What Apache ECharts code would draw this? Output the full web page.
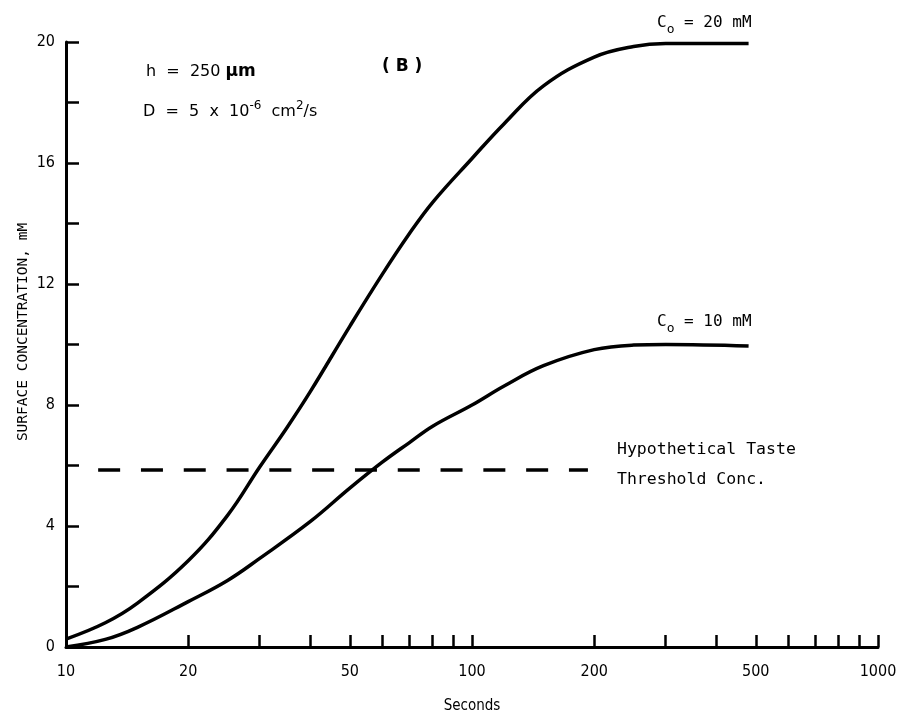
<!DOCTYPE html>
<html>
    <head>
        <meta charset="utf-8">
        <script src="https://cdn.jsdelivr.net/npm/echarts@6/dist/echarts.min.js"></script>
        <style>
            html, body { margin: 0; padding: 0; background: #fff; }
            #main { width: 905px; height: 721px; }
        </style>
    </head>
    <body>
        <div id="main"></div>
        <script>
            // time in seconds (log axis)
            var timeHigh = [10, 12.5, 15, 20, 25, 30, 35, 40, 50, 60, 70, 80, 100, 120, 150, 200, 250, 300, 480];
            // surface concentration for Co = 20 mM
            var concHigh = [0.26, 0.8, 1.45, 2.85, 4.35, 5.95, 7.25, 8.45, 10.6, 12.3, 13.65, 14.7, 16.15, 17.3, 18.55, 19.5, 19.85, 19.95, 19.95];

            var timeLow = [10, 12.5, 15, 20, 25, 30, 40, 50, 60, 70, 80, 100, 120, 150, 200, 250, 300, 480];
            // surface concentration for Co = 10 mM
            var concLow = [0.0, 0.25, 0.65, 1.5, 2.2, 2.93, 4.15, 5.25, 6.1, 6.75, 7.3, 8.0, 8.63, 9.3, 9.83, 9.98, 10.0, 9.95];

            var thresholdTime = [12, 193];
            var thresholdConc = [5.85, 5.85];

            var xTicks = [20, 30, 40, 50, 60, 70, 80, 90, 100, 200, 300, 400, 500, 600, 700, 800, 900, 1000];
            var xLabels = [10, 20, 50, 100, 200, 500, 1000];
            var yTicks = [0, 2, 4, 6, 8, 10, 12, 14, 16, 18, 20];
            var yLabels = [0, 4, 8, 12, 16, 20];

            var NARROW = "'DejaVu Sans Condensed', 'Liberation Sans Narrow', sans-serif";
            var SANS = "'DejaVu Sans', sans-serif";
            var MONO = "'DejaVu Sans Mono', 'Liberation Mono', monospace";

            function pairs(xs, ys) {
                var out = [];
                for (var i = 0; i < xs.length; i++) {
                    out.push([xs[i], ys[i]]);
                }
                return out;
            }

            var chart = echarts.init(document.getElementById('main'), null, {renderer: 'canvas'});

            var curveStyle = {color: '#000', width: 3.5};

            chart.setOption({
                animation: false,
                grid: {left: 66, right: 27, top: 42, bottom: 74},
                xAxis: {
                    type: 'log',
                    logBase: 10,
                    min: 10,
                    max: 1000,
                    name: 'Seconds',
                    nameLocation: 'middle',
                    nameGap: 52,
                    nameTextStyle: {color: '#000', fontSize: 15, fontFamily: NARROW},
                    axisLine: {lineStyle: {color: '#000', width: 3}},
                    axisTick: {
                        inside: true,
                        length: 12,
                        lineStyle: {color: '#000', width: 2.5},
                        customValues: xTicks
                    },
                    axisLabel: {
                        color: '#000',
                        fontSize: 16,
                        fontFamily: NARROW,
                        margin: 17,
                        customValues: xLabels,
                        formatter: function (v) { return String(v); }
                    },
                    splitLine: {show: false},
                    minorTick: {show: false}
                },
                yAxis: {
                    type: 'value',
                    min: 0,
                    max: 20,
                    interval: 2,
                    axisLine: {show: true, lineStyle: {color: '#000', width: 3}},
                    axisTick: {
                        show: true,
                        inside: true,
                        length: 13,
                        lineStyle: {color: '#000', width: 2.5},
                        customValues: yTicks
                    },
                    axisLabel: {
                        color: '#000',
                        fontSize: 16,
                        fontFamily: NARROW,
                        margin: 11,
                        customValues: yLabels
                    },
                    splitLine: {show: false}
                },
                graphic: [
                    {
                        type: 'text', x: 23, y: 332, rotation: Math.PI / 2,
                        style: {
                            text: 'SURFACE CONCENTRATION, mM',
                            font: '14.5px ' + MONO,
                            fill: '#000', align: 'center', verticalAlign: 'middle'
                        }
                    },
                    {
                        type: 'text', x: 146, y: 72,
                        style: {
                            text: 'h  =  250 {b|\u03bcm}',
                            font: '16px ' + SANS,
                            fill: '#000', verticalAlign: 'middle',
                            rich: {b: {fontSize: 17, fontWeight: 'bold', fontFamily: SANS}}
                        }
                    },
                    {
                        type: 'text', x: 143, y: 112,
                        style: {
                            text: 'D  =  5  x  10{sup|-6}  cm{sup|2}/s',
                            font: '16px ' + SANS,
                            fill: '#000', verticalAlign: 'middle',
                            rich: {sup: {fontSize: 12, fontFamily: SANS, padding: [0, 0, 13, 0]}}
                        }
                    },
                    {
                        type: 'text', x: 382, y: 67,
                        style: {
                            text: '( B )',
                            font: 'bold 17px ' + SANS,
                            fill: '#000', verticalAlign: 'middle'
                        }
                    },
                    {
                        type: 'text', x: 657, y: 23,
                        style: {
                            text: 'C{sub|o} = 20 mM',
                            font: '16px ' + MONO,
                            fill: '#000', verticalAlign: 'middle',
                            rich: {sub: {fontSize: 13, fontFamily: MONO, padding: [13, 0, 0, 0]}}
                        }
                    },
                    {
                        type: 'text', x: 657, y: 322,
                        style: {
                            text: 'C{sub|o} = 10 mM',
                            font: '16px ' + MONO,
                            fill: '#000', verticalAlign: 'middle',
                            rich: {sub: {fontSize: 13, fontFamily: MONO, padding: [13, 0, 0, 0]}}
                        }
                    },
                    {
                        type: 'text', x: 617, y: 450,
                        style: {
                            text: 'Hypothetical Taste',
                            font: '16.5px ' + MONO,
                            fill: '#000', verticalAlign: 'middle'
                        }
                    },
                    {
                        type: 'text', x: 617, y: 480,
                        style: {
                            text: 'Threshold Conc.',
                            font: '16.5px ' + MONO,
                            fill: '#000', verticalAlign: 'middle'
                        }
                    }
                ],
                series: [
                    {
                        name: 'Co = 20 mM',
                        type: 'line',
                        data: pairs(timeHigh, concHigh),
                        symbol: 'none',
                        smooth: 0.4,
                        lineStyle: curveStyle
                    },
                    {
                        name: 'Co = 10 mM',
                        type: 'line',
                        data: pairs(timeLow, concLow),
                        symbol: 'none',
                        smooth: 0.4,
                        lineStyle: curveStyle
                    },
                    {
                        name: 'Threshold',
                        type: 'line',
                        data: pairs(thresholdTime, thresholdConc),
                        symbol: 'none',
                        lineStyle: {color: '#000', width: 3.5, type: [22, 20.8]}
                    }
                ]
            });
        </script>
    </body>
</html>
